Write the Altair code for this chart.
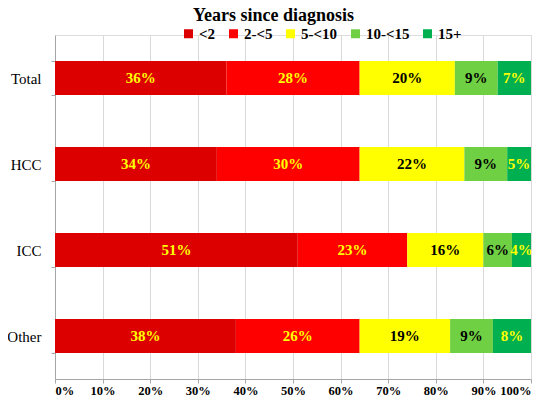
import altair as alt
import pandas as pd

categories = ["Total", "HCC", "ICC", "Other"]
groups = ["<2", "2-<5", "5-<10", "10-<15", "15+"]
colors = ["#dd0000", "#ff0000", "#ffff00", "#70d044", "#00b050"]
text_colors = ["#ffff00", "#ffff00", "#000000", "#000000", "#ffff00"]

total_vals = [36, 28, 20, 9, 7]
hcc_vals = [34, 30, 22, 9, 5]
icc_vals = [51, 23, 16, 6, 4]
other_vals = [38, 26, 19, 9, 8]

series = {"Total": total_vals, "HCC": hcc_vals, "ICC": icc_vals, "Other": other_vals}
rows = []
for cat in categories:
    for i, g in enumerate(groups):
        v = series[cat][i]
        rows.append({"cat": cat, "group": g, "order": i, "value": v,
                     "label": f"{v}%", "tcolor": text_colors[i]})
df = pd.DataFrame(rows)

FONT = "Liberation Serif"

base = alt.Chart(df).transform_stack(
    stack="value", groupby=["cat"], sort=[alt.SortField("order")], as_=["x0", "x1"]
).transform_calculate(mid="(datum.x0 + datum.x1) / 2")

yenc = alt.Y("cat:N", sort=categories, title=None,
             scale=alt.Scale(paddingInner=0.605, paddingOuter=0.3025),
             axis=alt.Axis(labelFont=FONT, labelFontSize=15, labelColor="#000000",
                           domainColor="#a6a6a6", tickColor="#a6a6a6", tickSize=4,
                           tickBand="extent", labelPadding=10, grid=False))

bars = base.mark_bar().encode(
    x=alt.X("x0:Q", title=None, scale=alt.Scale(domain=[0, 100], nice=False),
            axis=alt.Axis(values=list(range(0, 101, 10)), labelExpr="datum.value + '%'",
                          labelFont=FONT, labelFontSize=12.5, labelFontWeight="bold",
                          labelColor="#000000", domainColor="#a6a6a6", tickColor="#a6a6a6",
                          tickSize=4, labelPadding=1, grid=True, gridColor="#d9d9d9")),
    x2="x1:Q",
    y=yenc,
    color=alt.Color("group:N", scale=alt.Scale(domain=groups, range=colors),
                    legend=alt.Legend(title=None, orient="none", legendX=126, legendY=-9,
                                      direction="horizontal", symbolType="square",
                                      symbolSize=81, symbolStrokeWidth=0,
                                      labelFont=FONT, labelFontSize=15, labelFontWeight="bold",
                                      labelColor="#000000", columnPadding=10, labelOffset=3)),
)

texts = base.mark_text(font=FONT, fontSize=15, fontWeight="bold", baseline="middle").encode(
    x="mid:Q",
    y=alt.Y("cat:N", sort=categories),
    text="label:N",
    color=alt.Color("tcolor:N", scale=None),
)

chart = alt.layer(bars, texts).properties(
    width=476, height=344,
    autosize=alt.AutoSizeParams(type="none"),
    padding={"left": 47, "top": 27, "right": 11, "bottom": 19},
    title=alt.Title("Years since diagnosis", anchor="start", frame="group", dx=138, dy=11,
                    offset=12, font=FONT, fontSize=18, fontWeight="bold", color="#000000"),
).configure_view(stroke=None).configure(background="white")

chart.save("out.html", embed_options={"renderer": "svg", "actions": False})
